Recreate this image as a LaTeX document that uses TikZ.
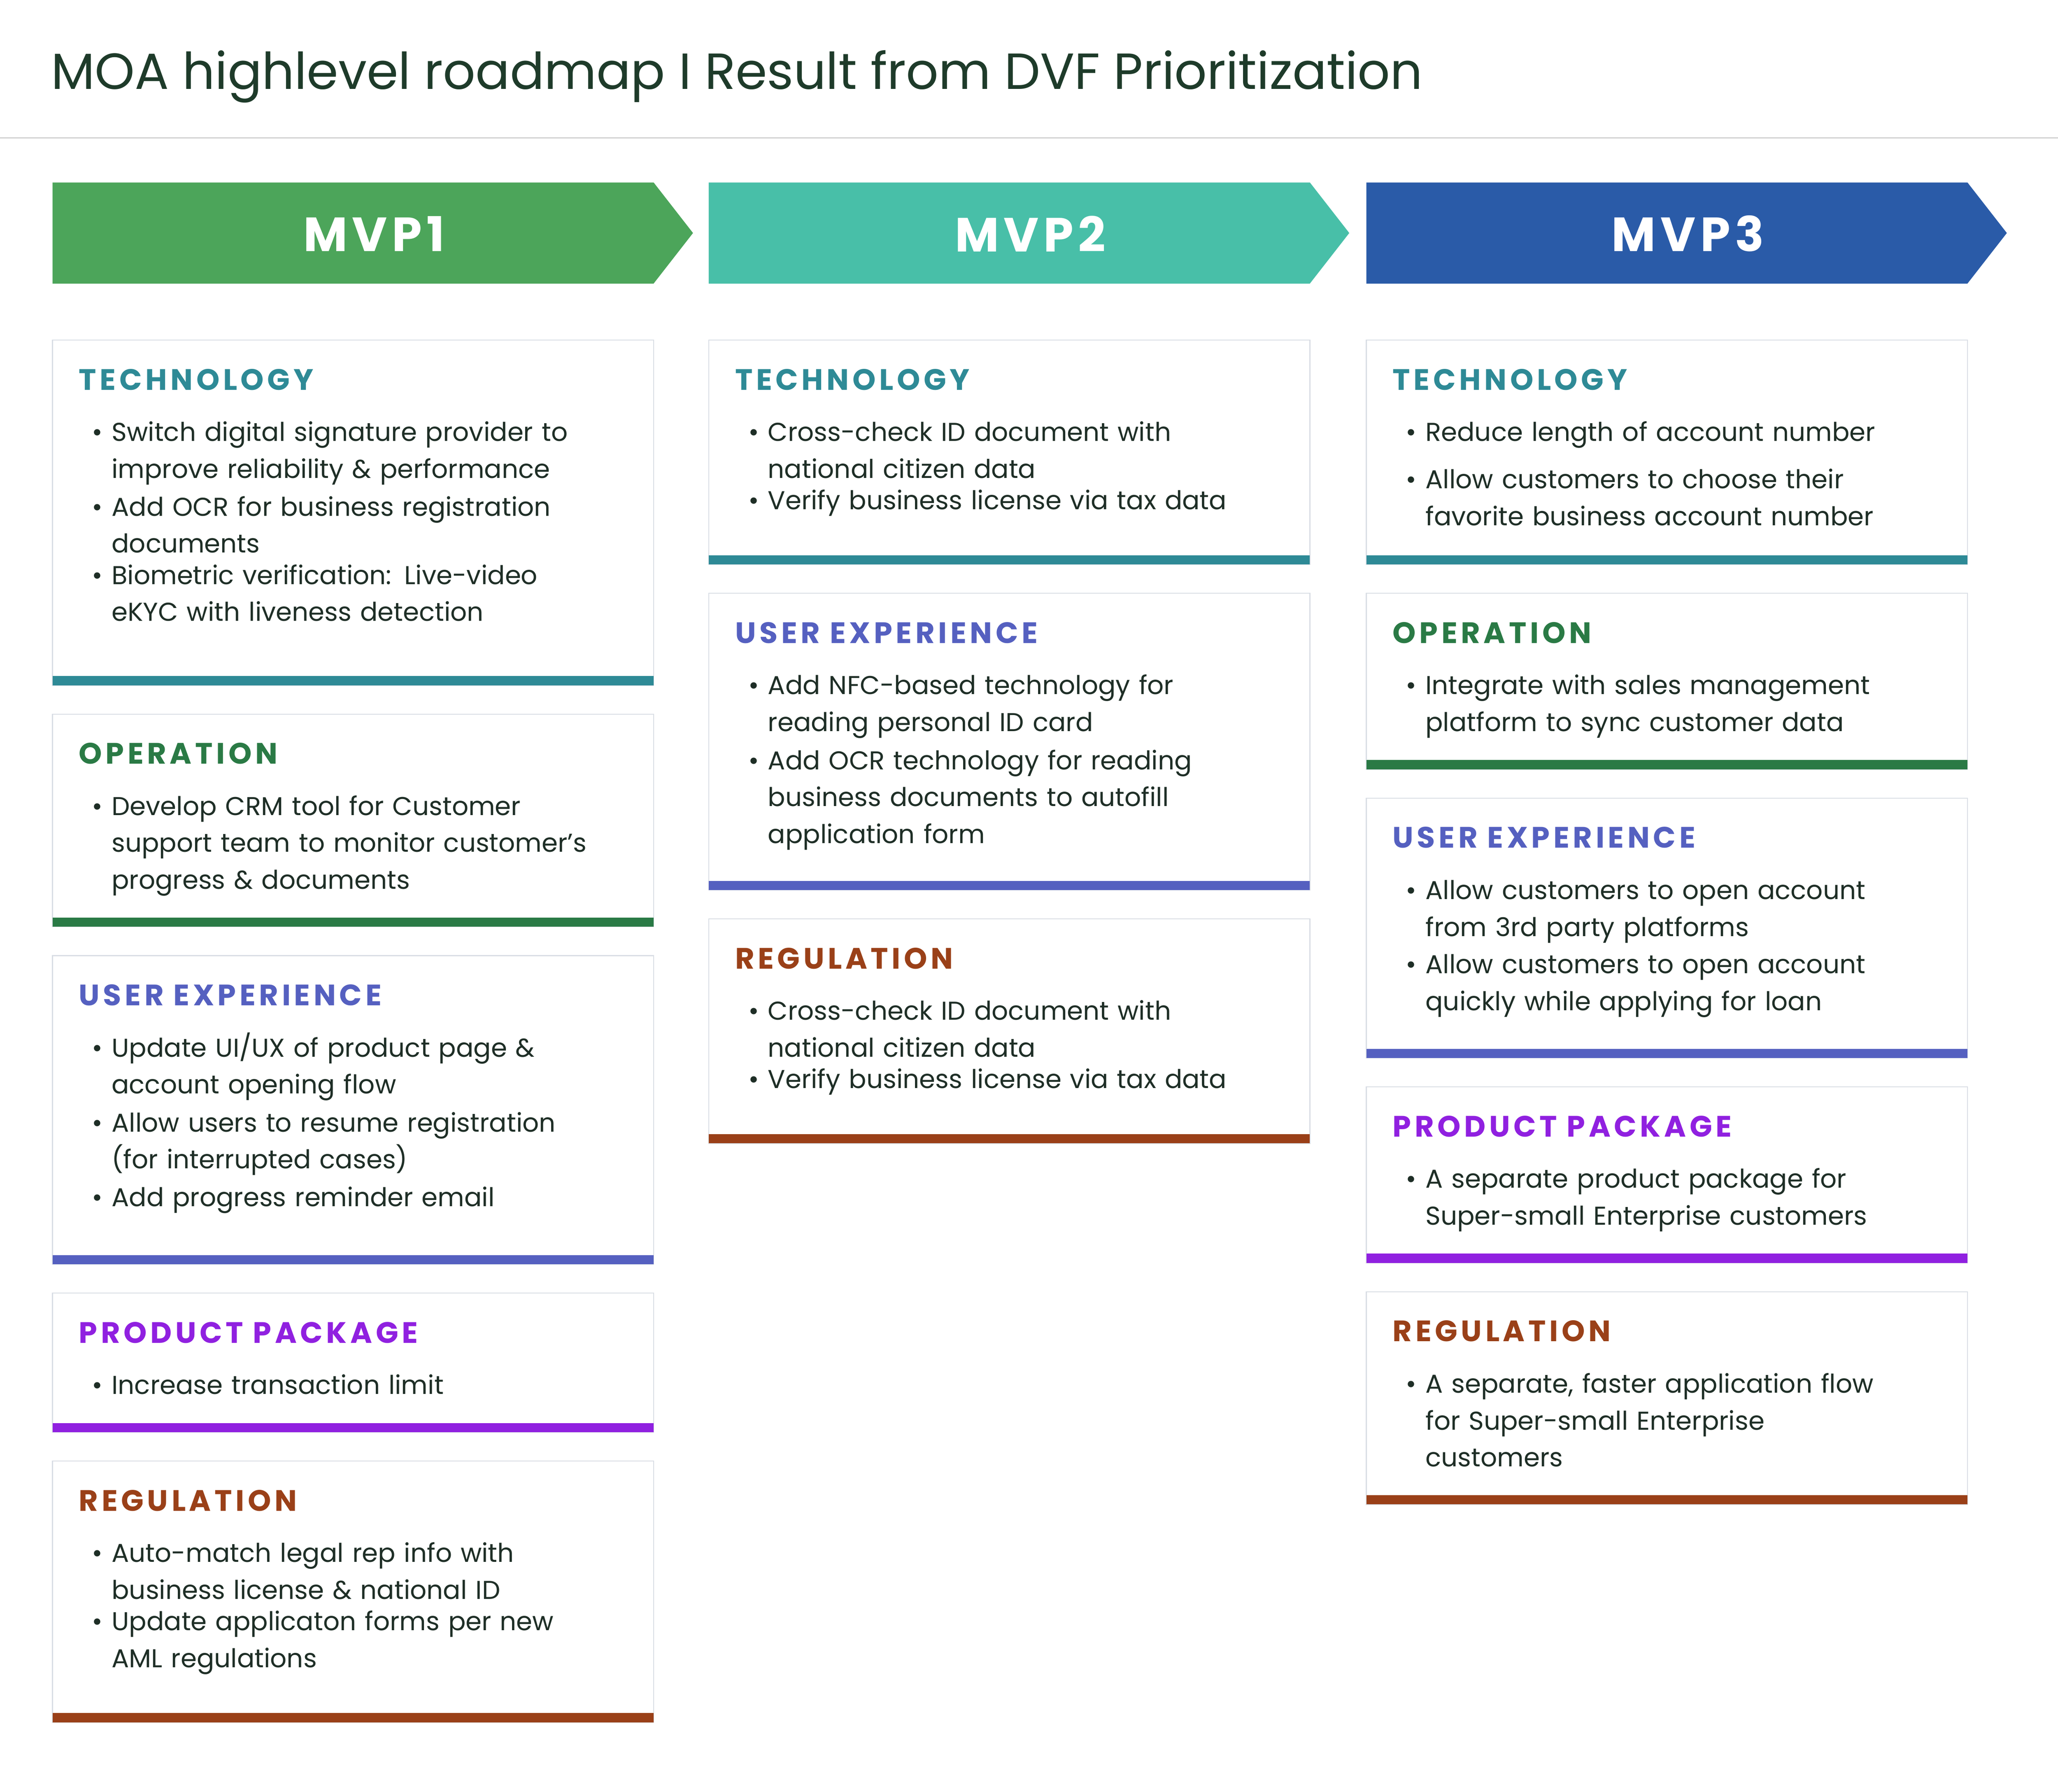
\documentclass[tikz,border=0pt]{standalone}
\usepackage{fontspec}
\setmainfont{Poppins}
\newfontfamily\hdrfont[LetterSpace=12]{Poppins}
\newfontfamily\mvpfont[LetterSpace=10]{Poppins}
\definecolor{ctech}{HTML}{2E8A96}
\definecolor{cop}{HTML}{2A7A45}
\definecolor{cux}{HTML}{5560C0}
\definecolor{cprod}{HTML}{9020E0}
\definecolor{creg}{HTML}{9A4018}
\definecolor{cmvpa}{HTML}{4CA55A}
\definecolor{cmvpb}{HTML}{48BFA8}
\definecolor{cmvpc}{HTML}{2A5BA8}
\definecolor{ctitle}{HTML}{1E3B2A}
\definecolor{ctext}{HTML}{1E2E26}
\definecolor{cborder}{HTML}{D8DDE4}
\newcommand\itm[1]{\noindent\makebox[21.3pt][l]{\textbullet}\parbox[t]{570pt}{\raggedright #1}\par}
\newcommand\card[7]{%
 \draw[cardbox] (#2,#3) rectangle (#2+458,#4);
 \fill[#5] (#2,#4-7) rectangle (#2+458,#4);
 \node[hdr,text=#5,anchor=base west] (#1h) at (#2+20,#3+38) {#6};
 \node[body,anchor=base west] (#1b) at (#2+30,#3+77) {#7};
}
\begin{document}
\begin{tikzpicture}[x=0.5mm,y=-0.5mm,
 cardbox/.style={draw=cborder,line width=1pt,fill=white},
 hdr/.style={inner sep=0,font=\hdrfont\bfseries\fontsize{32}{36}\selectfont},
 body/.style={inner sep=0,text width=600pt,text=ctext,
   font=\fontsize{28}{40}\selectfont,execute at begin node={\setlength\parskip{11.4pt}}},
 mvp/.style={text=white,font=\mvpfont\bfseries\fontsize{52}{60}\selectfont}]
\useasboundingbox (0,0) rectangle (1568,1365);
\fill[white] (0,0) rectangle (1568,1365);
\node[anchor=base west,inner sep=0,text=ctitle,font=\fontsize{55}{62}\selectfont] (title) at (39,68) {MOA highlevel roadmap I Result from DVF Prioritization};
\draw[gray!50,line width=1pt] (0,105) -- (1568,105);
\foreach \x/\c/\n in {40/cmvpa/1,540/cmvpb/2,1041/cmvpc/3}{
 \fill[\c] (\x,139) -- (\x+458,139) -- (\x+488,177.5) -- (\x+458,216) -- (\x,216) -- cycle;
 \node[mvp] (mvp\n) at (\x+245,178) {MVP\n};
}
% column 1
\card{a1}{40}{259}{522}{ctech}{TECHNOLOGY}{\itm{Switch digital signature provider to\\improve reliability \& performance}\itm{Add OCR for business registration\\documents}\itm{Biometric verification: Live-video\\eKYC with liveness detection}}
\card{a2}{40}{544}{706}{cop}{OPERATION}{\itm{Develop CRM tool for Customer\\support team to monitor customer’s\\progress \& documents}}
\card{a3}{40}{728}{963}{cux}{USER EXPERIENCE}{\itm{Update UI/UX of product page \&\\account opening flow}\itm{Allow users to resume registration\\(for interrupted cases)}\itm{Add progress reminder email}}
\card{a4}{40}{985}{1091}{cprod}{PRODUCT PACKAGE}{\itm{Increase transaction limit}}
\card{a5}{40}{1113}{1312}{creg}{REGULATION}{\itm{Auto-match legal rep info with\\business license \& national ID}\itm{Update applicaton forms per new\\AML regulations}}
% column 2
\card{b1}{540}{259}{430}{ctech}{TECHNOLOGY}{\itm{Cross-check ID document with\\national citizen data}\itm{Verify business license via tax data}}
\card{b2}{540}{452}{678}{cux}{USER EXPERIENCE}{\itm{Add NFC-based technology for\\reading personal ID card}\itm{Add OCR technology for reading\\business documents to autofill\\application form}}
\card{b3}{540}{700}{871}{creg}{REGULATION}{\itm{Cross-check ID document with\\national citizen data}\itm{Verify business license via tax data}}
% column 3
\card{c1}{1041}{259}{430}{ctech}{TECHNOLOGY}{\itm{Reduce length of account number}\itm{Allow customers to choose their\\favorite business account number}}
\card{c2}{1041}{452}{586}{cop}{OPERATION}{\itm{Integrate with sales management\\platform to sync customer data}}
\card{c3}{1041}{608}{806}{cux}{USER EXPERIENCE}{\itm{Allow customers to open account\\from 3rd party platforms}\itm{Allow customers to open account\\quickly while applying for loan}}
\card{c4}{1041}{828}{962}{cprod}{PRODUCT PACKAGE}{\itm{A separate product package for\\Super-small Enterprise customers}}
\card{c5}{1041}{984}{1146}{creg}{REGULATION}{\itm{A separate, faster application flow\\for Super-small Enterprise\\customers}}
\end{tikzpicture}
\end{document}
